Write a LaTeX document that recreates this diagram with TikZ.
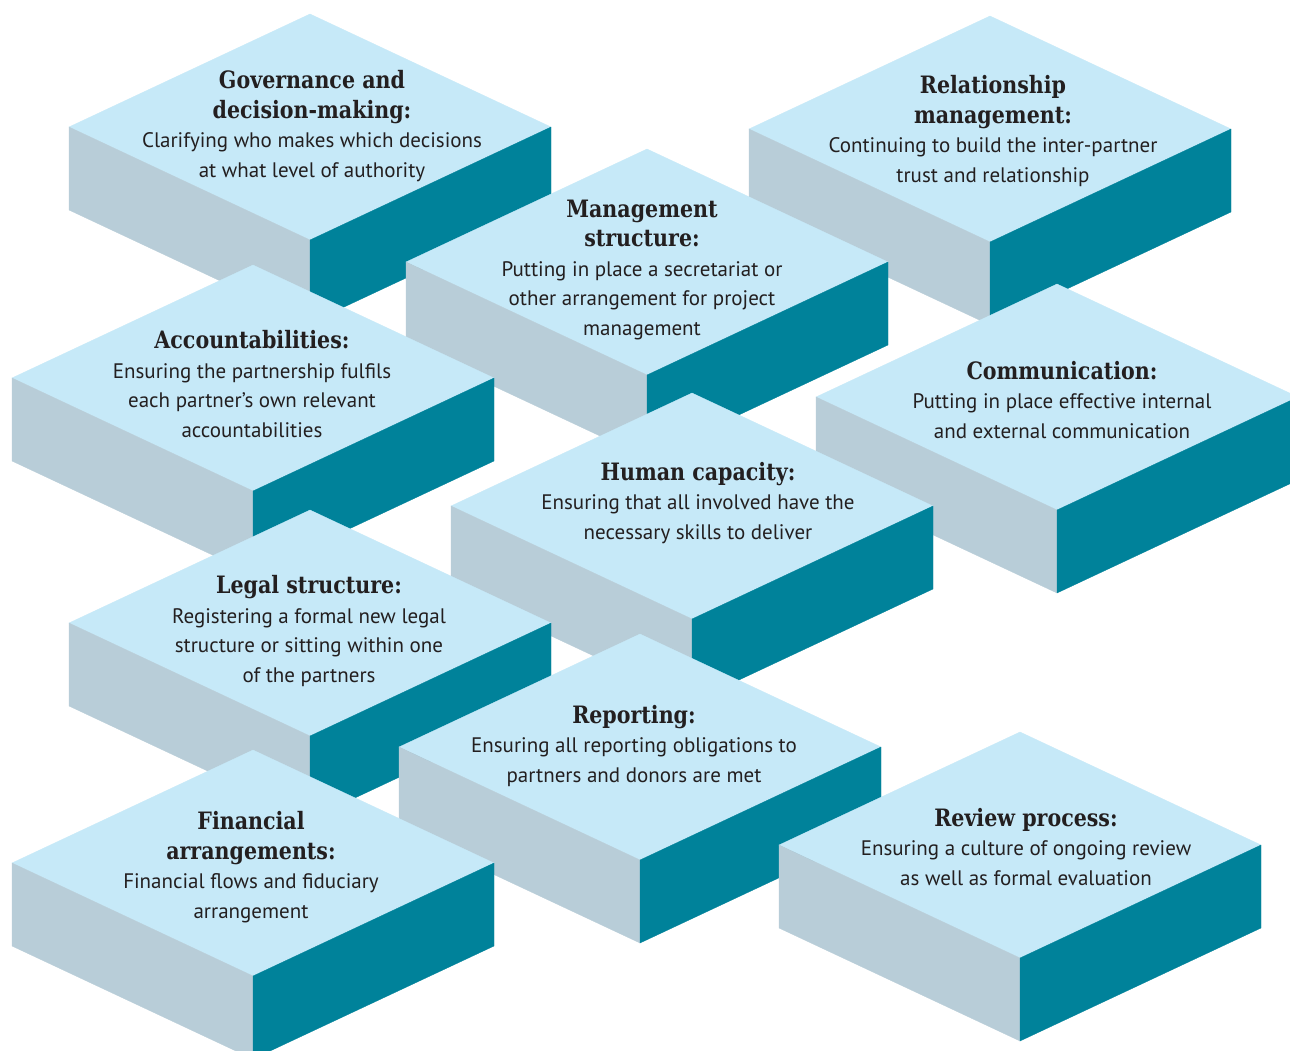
\documentclass[tikz,border=0pt]{standalone}
\usepackage{fontspec}
\setmainfont{PT Sans}
\newfontfamily\titlefont{DejaVu Serif}[Scale=1.14,FakeStretch=0.86]
\definecolor{topc}{HTML}{C6E9F8}
\definecolor{leftc}{HTML}{B8CDD8}
\definecolor{rightc}{HTML}{00829A}
\definecolor{txt}{HTML}{231F20}
\newcommand\ttl[1]{{\titlefont\bfseries #1}}
\newcommand\isoblk[2]{%
  \filldraw[topface] (#1,{#2-113}) -- ({#1+241},#2) -- (#1,{#2+113}) -- ({#1-241},#2) -- cycle;
  \filldraw[leftface] ({#1-241},#2) -- (#1,{#2+113}) -- (#1,{#2+196}) -- ({#1-241},{#2+83}) -- cycle;
  \filldraw[rightface] ({#1+241},#2) -- (#1,{#2+113}) -- (#1,{#2+196}) -- ({#1+241},{#2+83}) -- cycle;
}
\begin{document}
\begin{tikzpicture}[x=1pt,y=-1pt,
  topface/.style={fill=topc,draw=topc,line width=0.3pt},
  leftface/.style={fill=leftc,draw=leftc,line width=0.3pt},
  rightface/.style={fill=rightc,draw=rightc,line width=0.3pt},
  lbl/.style={anchor=base,align=center,inner sep=0pt,text=txt,
    font=\fontsize{21}{29.5}\selectfont}]
\useasboundingbox (0,0) rectangle (1290,1050);
\fill[white] (0,0) rectangle (1290,1050);

\isoblk{310}{127}
\node[lbl] (gov) at (312,177) {\ttl{Governance and}\\\ttl{decision-making:}\\Clarifying who makes which decisions\\at what level of authority};

\isoblk{990}{129}
\node[lbl] (rel) at (993,182) {\ttl{Relationship}\\\ttl{management:}\\Continuing to build the inter-partner\\trust and relationship};

\isoblk{647}{262}
\node[lbl] (mgmt) at (642,335) {\ttl{Management}\\\ttl{structure:}\\Putting in place a secretariat or\\other arrangement for project\\management};

\isoblk{253}{378}
\node[lbl] (acc) at (252,437) {\ttl{Accountabilities:}\\Ensuring the partnership fulfils\\each partner’s own relevant\\accountabilities};

\isoblk{1057}{397}
\node[lbl] (comm) at (1062,438) {\ttl{Communication:}\\Putting in place effective internal\\and external communication};

\isoblk{692}{506}
\node[lbl] (human) at (698,539) {\ttl{Human capacity:}\\Ensuring that all involved have the\\necessary skills to deliver};

\isoblk{310}{623}
\node[lbl] (legal) at (309,682) {\ttl{Legal structure:}\\Registering a formal new legal\\structure or sitting within one\\of the partners};

\isoblk{640}{747}
\node[lbl] (report) at (634,782) {\ttl{Reporting:}\\Ensuring all reporting obligations to\\partners and donors are met};

\isoblk{1020}{845}
\node[lbl] (review) at (1026,885) {\ttl{Review process:}\\Ensuring a culture of ongoing review\\as well as formal evaluation};

\isoblk{253}{863}
\node[lbl] (fin) at (251,918) {\ttl{Financial}\\\ttl{arrangements:}\\Financial flows and fiduciary\\arrangement};
\end{tikzpicture}
\end{document}
